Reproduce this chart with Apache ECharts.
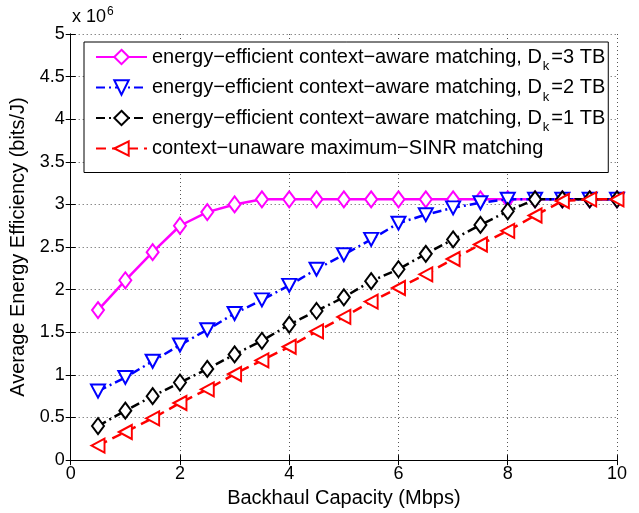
<!DOCTYPE html>
<html><head><meta charset="utf-8">
<script src="https://cdn.jsdelivr.net/npm/echarts@6.0.0/dist/echarts.min.js"></script>
<style>html,body{margin:0;padding:0;background:#fff}#c{width:639px;height:513px}</style>
</head><body><div id="c"></div>
<script>
// Backhaul capacity (Mbps)
const capacity = [0.5,1,1.5,2,2.5,3,3.5,4,4.5,5,5.5,6,6.5,7,7.5,8,8.5,9,9.5,10];
// Average energy efficiency, in units of 10^6 bits/J
const eeDk3 = [1.76,2.11,2.44,2.75,2.91,3.00,3.06,3.06,3.06,3.06,3.06,3.06,3.06,3.06,3.06,3.06,3.06,3.06,3.06,3.06];
const eeDk2 = [0.81,0.97,1.16,1.35,1.53,1.72,1.88,2.05,2.24,2.41,2.59,2.78,2.88,2.96,3.02,3.06,3.06,3.06,3.06,3.06];
const eeDk1 = [0.40,0.58,0.75,0.91,1.07,1.24,1.40,1.59,1.75,1.91,2.10,2.24,2.42,2.59,2.76,2.92,3.06,3.06,3.06,3.06];
const maxSinr = [0.17,0.33,0.49,0.67,0.83,1.01,1.17,1.33,1.51,1.68,1.86,2.02,2.18,2.36,2.53,2.69,2.87,3.04,3.06,3.06];
const seriesNames = [
  'energy\u2212efficient context\u2212aware matching, Dk=3 TB',
  'energy\u2212efficient context\u2212aware matching, Dk=2 TB',
  'energy\u2212efficient context\u2212aware matching, Dk=1 TB',
  'context\u2212unaware maximum\u2212SINR matching'
];
const legendLabels = [
  'energy\u2212efficient context\u2212aware matching, D{sub|k}=3 TB',
  'energy\u2212efficient context\u2212aware matching, D{sub|k}=2 TB',
  'energy\u2212efficient context\u2212aware matching, D{sub|k}=1 TB',
  'context\u2212unaware maximum\u2212SINR matching'
];
const FONT = '"Liberation Sans", Arial, Helvetica, sans-serif';
function pairs(ys){ return capacity.map((x,i)=>[x, ys[i]]); }

const chart = echarts.init(document.getElementById('c'), null, {renderer:'canvas'});
const axisLine = {show:true, lineStyle:{color:'#000', width:1}};
const split = {show:true, lineStyle:{color:'#555', width:1, type:[1,3]}};
function mkSeries(i, ys, color, symbol, size, rot, dash){
  return {
    name: seriesNames[i], type:'line', data: pairs(ys),
    symbol: symbol, symbolSize: size, symbolRotate: rot,
    showAllSymbol: true,
    itemStyle:{color: color, borderWidth: 2.3},
    lineStyle:{color: color, width: 2.5, type: dash},
    emphasis:{disabled:true}, animation:false, z: 2+i
  };
}
chart.setOption({
  animation:false,
  backgroundColor:'#fff',
  textStyle:{fontFamily: FONT},
  grid:{left:70.7, right:22, top:34, bottom:48, containLabel:false},
  xAxis:[{
    type:'value', min:0, max:10, interval:2, position:'bottom',
    name:'Backhaul Capacity (Mbps)', nameLocation:'middle', nameGap:27,
    nameTextStyle:{fontSize:20, color:'#000', fontFamily:FONT},
    axisLine: axisLine, axisTick:{show:true, inside:true, length:5, lineStyle:{color:'#000'}},
    axisLabel:{fontSize:18, color:'#000', margin:5, fontFamily:FONT},
    splitLine: split
  },{
    type:'value', min:0, max:10, interval:2, position:'top',
    axisLine: axisLine, axisTick:{show:true, inside:true, length:5, lineStyle:{color:'#000'}},
    axisLabel:{show:false}, splitLine:{show:false}
  }],
  yAxis:[{
    type:'value', min:0, max:5, interval:0.5, position:'left',
    name:'Average Energy Efficiency (bits/J)', nameLocation:'middle', nameGap:36,
    nameTextStyle:{fontSize:20, color:'#000', fontFamily:FONT},
    axisLine: axisLine, axisTick:{show:true, inside:true, length:5, lineStyle:{color:'#000'}},
    axisLabel:{fontSize:18, color:'#000', margin:6, fontFamily:FONT},
    splitLine: split
  },{
    type:'value', min:0, max:5, interval:0.5, position:'right',
    axisLine: axisLine, axisTick:{show:true, inside:true, length:5, lineStyle:{color:'#000'}},
    axisLabel:{show:false}, splitLine:{show:false}
  }],
  legend:{
    left:84, top:42, orient:'vertical',
    padding:[5,3,14,11], itemGap:4.5, itemWidth:51, itemHeight:18,
    backgroundColor:'#fff', borderColor:'#000', borderWidth:1, borderRadius:0,
    data: seriesNames,
    formatter: function(n){ return legendLabels[seriesNames.indexOf(n)]; },
    textStyle:{fontSize:20, color:'#000', fontFamily:FONT, lineHeight:20, verticalAlign:'top',
      rich:{sub:{fontSize:13, color:'#000', fontFamily:FONT, lineHeight:13, verticalAlign:'top', padding:[13,2,0,1]}}},
    selectedMode:false
  },
  graphic:[{
    type:'text', left:72, top:6,
    style:{text:'x 10{s|6}', fill:'#000', font:'18px '+FONT,
      rich:{s:{fontSize:12, fontFamily:FONT, verticalAlign:'top', padding:[0,0,10,1]}}}
  }],
  series:[
    mkSeries(0, eeDk3, '#ff00ff', 'emptyDiamond', [12,16], 0, 'solid'),
    mkSeries(1, eeDk2, '#0000ff', 'emptyTriangle', [14,13], 180, [9,4,2,4]),
    mkSeries(2, eeDk1, '#000000', 'emptyDiamond', [12,16], 0, [9,4,2,4]),
    mkSeries(3, maxSinr, '#ff0000', 'emptyTriangle', [14,13], 90, [10,6])
  ]
});
</script></body></html>
